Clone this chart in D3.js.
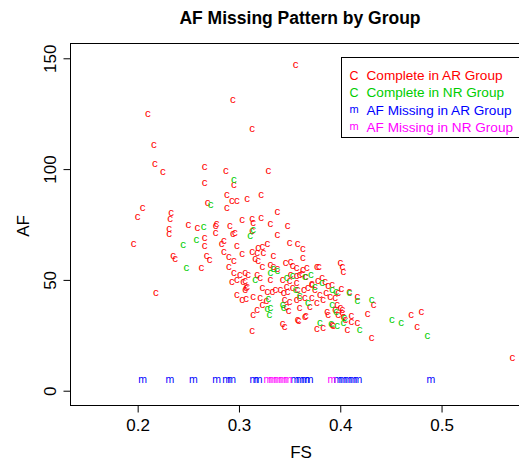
<!DOCTYPE html>
<html>
<head>
<meta charset="utf-8">
<script src="https://cdn.jsdelivr.net/npm/d3@7"></script>
<style>
  body { margin: 0; background: #fff; }
  svg { font-family: "Liberation Sans", Arial, sans-serif; }
</style>
</head>
<body>
<div id="chart"></div>
<script>
// complete cases, AR group (red)
var arFS = [.356,.294,.210,.313,.216,.217,.225,.266,.287,.329,.295,.266,.288,.293,.298,.308,.322,.269,.288,.205,
  .200,.233,.232,.338,.303,.313,.322,.331,.348,.250,.259,.278,.277,.291,.231,.231,.196,.313,.338,.350,
  .358,.363,.277,.266,.294,.296,.266,.283,.285,.298,.303,.235,.237,.268,.271,.263,.285,.290,.295,.290,
  .295,.301,.306,.298,.293,.306,.307,.306,.298,.307,.218,.313,.314,.363,.313,.319,.323,.328,.318,.324,
  .316,.319,.334,.323,.331,.334,.338,.346,.351,.353,.357,.363,.367,.377,.379,.400,.402,.403,.309,.304,
  .308,.303,.318,.321,.331,.343,.350,.357,.323,.328,.333,.336,.314,.321,.347,.348,.353,.358,.364,.368,
  .372,.341,.344,.345,.350,.357,.360,.365,.314,.358,.365,.387,.388,.400,.402,.343,.345,.377,.383,.407,
  .392,.401,.398,.409,.417,.433,.395,.397,.395,.402,.398,.403,.405,.411,.411,.417,.427,.392,.393,.431,
  .470,.480,.476,.570,.359,.366,.347,.349,.360,.370,.360,.362,.366,.351,.357,.372,.378,.382,.385,.388,
  .375,.380,.383,.377,.372,.386,.390,.323,.327,.318];
var arAF = [147.0,131.2,124.9,118.1,110.9,102.3,98.7,101.0,99.2,99.2,92.8,93.7,88.3,85.6,85.6,86.5,88.3,84.7,82.4,82.4,
  78.4,80.2,77.5,80.6,77.0,77.5,77.9,75.2,74.3,74.8,73.4,75.2,74.3,74.3,73.0,70.7,66.2,72.1,70.3,66.7,
  66.2,63.9,71.2,68.9,70.7,71.2,65.3,66.2,67.6,65.3,61.7,60.8,59.5,60.8,59.0,55.4,62.6,60.4,58.6,55.9,
  53.2,52.3,53.2,50.0,49.1,49.6,46.4,45.5,43.2,41.4,44.1,27.0,75.7,59.9,62.6,64.4,64.8,66.2,62.2,62.2,
  59.5,58.6,60.8,55.9,56.8,55.9,55.0,57.7,58.1,56.3,55.4,54.5,55.4,55.9,55.9,57.7,55.9,53.6,52.3,49.1,
  46.9,41.0,52.3,50.9,50.0,50.0,49.6,48.7,46.4,44.6,44.6,45.5,42.3,41.9,46.9,44.6,46.4,45.5,45.5,46.4,
  47.8,45.5,44.1,41.0,40.1,41.0,41.9,41.9,34.2,31.9,33.3,35.5,34.2,37.3,35.1,30.1,28.8,27.9,28.3,27.4,
  47.8,46.0,44.1,44.6,42.3,38.7,41.9,38.7,36.4,36.4,34.2,33.3,31.9,33.7,31.0,30.6,34.6,29.7,29.2,23.8,
  34.2,35.5,28.8,14.8,31.5,33.7,37.8,36.0,37.3,37.8,52.3,52.7,51.4,52.3,51.8,48.2,49.6,50.9,49.1,47.3,
  45.5,43.2,41.0,39.6,41.9,44.1,42.3,38.7,40.5,36.4];

// complete cases, NR group (green)
var nrFS = [.295,.272,.265,.311,.258,.245,.248,.314,.334,.338,.331,.316,.347,.353,.365,.371,.382,.392,.396,.409,
  .417,.431,.392,.396,.404,.403,.391,.397,.419,.451,.460,.486,.329,.328,.330,.331,.343,.344,.368,.380,
  .360,.356,.375];
var nrAF = [95.1,83.8,73.9,69.8,68.0,65.8,55.4,72.5,55.0,54.1,53.2,50.0,50.9,51.8,51.4,52.3,48.7,45.5,44.6,44.1,
  40.5,41.0,38.7,35.5,32.8,30.6,30.1,29.2,27.4,31.9,30.6,24.7,41.4,36.9,34.2,37.3,38.7,37.3,39.6,30.6,
  42.8,45.5,46.9];

// AF missing: FS only, drawn on a strip near the bottom
var arMissFS = [.2049,.2319,.2549,.2780,.2879,.2928,.3148,.3188,.3553,.3603,.3652,.3692,.3977,.4026,.4076,.4125,.4175,.4895];
var nrMissFS = [.3286,.3335,.3385,.3434,.3484,.3918];
var missAF = 4.5;

var xTicks = [0.2, 0.3, 0.4, 0.5];
var yTicks = [0, 50, 100, 150];
var legendLabels = ["Complete in AR Group", "Complete in NR Group", "AF Missing in AR Group", "AF Missing in NR Group"];
var legendSymbols = ["C", "C", "m", "m"];
var colors = ["#ff0000", "#00cd00", "#0000ff", "#ff00ff"];

var width = 519, height = 461;
var box = {left: 70, right: 531, top: 43, bottom: 405};

var x = d3.scaleLinear().domain([0.1332, 0.5883]).range([box.left, box.right]);
var y = d3.scaleLinear().domain([-6.45, 156.9]).range([box.bottom, box.top]);

var svg = d3.select("#chart").append("svg")
  .attr("width", width)
  .attr("height", height);

// title
svg.append("text")
  .attr("x", 300).attr("y", 24)
  .attr("text-anchor", "middle")
  .style("font-weight", "bold")
  .style("font-size", "17.5px")
  .text("AF Missing Pattern by Group");

// plot box
svg.append("rect")
  .attr("x", box.left + 0.5).attr("y", box.top + 0.5)
  .attr("width", box.right - box.left).attr("height", box.bottom - box.top)
  .attr("fill", "none").attr("stroke", "#000");

// x axis, R style: line only from first to last tick
var gx = svg.append("g")
  .attr("transform", "translate(0," + (box.bottom + 0.5) + ")")
  .call(d3.axisBottom(x).tickValues(xTicks).tickSize(7).tickPadding(6)
    .tickFormat(d3.format(".1f")));
gx.select(".domain").remove();
gx.append("line")
  .attr("x1", x(xTicks[0])).attr("x2", x(xTicks[xTicks.length - 1]))
  .attr("stroke", "#000");
gx.selectAll("text").style("font-size", "17px").attr("fill", "#000")
  .attr("font-family", "Liberation Sans, Arial, sans-serif");

// y axis with rotated labels
var gy = svg.append("g")
  .attr("transform", "translate(" + (box.left + 0.5) + ",0)")
  .call(d3.axisLeft(y).tickValues(yTicks).tickSize(7).tickFormat(d3.format("d")));
gy.select(".domain").remove();
gy.append("line")
  .attr("y1", y(yTicks[0])).attr("y2", y(yTicks[yTicks.length - 1]))
  .attr("stroke", "#000");
gy.selectAll(".tick text")
  .attr("x", null).attr("dy", null)
  .attr("text-anchor", "middle")
  .attr("transform", "translate(-15,0) rotate(-90)")
  .attr("fill", "#000")
  .attr("font-family", "Liberation Sans, Arial, sans-serif")
  .style("font-size", "17px");

// axis titles
svg.append("text")
  .attr("x", 301).attr("y", 458)
  .attr("text-anchor", "middle")
  .style("font-size", "17px")
  .text("FS");
svg.append("text")
  .attr("transform", "translate(29," + 226 + ") rotate(-90)")
  .attr("text-anchor", "middle")
  .style("font-size", "17px")
  .text("AF");

// points drawn as characters, like pch = "c" / "m"
var plot = svg.append("g");

function drawChars(xs, ys, ch, color, size, dy) {
  plot.selectAll(null)
    .data(xs.map(function (d, i) { return [d, ys ? ys[i] : missAF]; }))
    .enter().append("text")
    .attr("x", function (d) { return x(d[0]); })
    .attr("y", function (d) { return y(d[1]) + dy; })
    .attr("text-anchor", "middle")
    .attr("fill", color)
    .style("font-size", size + "px")
    .text(ch);
}

drawChars(arFS, arAF, "c", colors[0], 11.5, 3);
drawChars(nrFS, nrAF, "c", colors[1], 11.5, 3);
drawChars(arMissFS, null, "m", colors[2], 10.5, 2.7);
drawChars(nrMissFS, null, "m", colors[3], 10.5, 2.7);

// legend
var lg = svg.append("g");
lg.append("rect")
  .attr("x", 341.5).attr("y", 57.5)
  .attr("width", 200).attr("height", 80)
  .attr("fill", "#fff").attr("stroke", "#000");

var rows = lg.selectAll(".row")
  .data(legendLabels)
  .enter().append("g")
  .attr("class", "row")
  .attr("transform", function (d, i) { return "translate(0," + (75 + i * 17.3) + ")"; });

rows.append("text")
  .attr("x", 354)
  .attr("y", function (d, i) { return i < 2 ? 4.5 : 3; })
  .attr("text-anchor", "middle")
  .attr("fill", function (d, i) { return colors[i]; })
  .style("font-size", function (d, i) { return i < 2 ? "12.5px" : "11px"; })
  .text(function (d, i) { return legendSymbols[i]; });

rows.append("text")
  .attr("x", 366.5)
  .attr("y", 4.9)
  .attr("fill", function (d, i) { return colors[i]; })
  .style("font-size", "13.6px")
  .text(function (d) { return d; });
</script>
</body>
</html>
